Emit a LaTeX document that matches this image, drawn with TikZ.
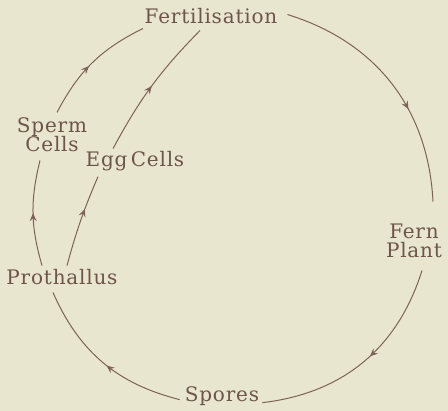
\documentclass[tikz,border=0pt]{standalone}
\usepackage{fontspec}
\setmainfont{DejaVu Serif}[LetterSpace=4]
\usetikzlibrary{decorations.markings,arrows.meta}
\definecolor{bgc}{RGB}{232,230,206}
\definecolor{inkc}{RGB}{110,84,74}
\definecolor{linec}{RGB}{126,98,88}
\tikzset{
  lbl/.style={text=inkc,font=\fontsize{20}{19.5}\selectfont,inner sep=0pt,align=center},
  cyc/.style={draw=linec,line width=1pt,postaction={decorate},
    decoration={markings,mark=at position #1 with {\arrow[linec]{Stealth[length=8pt,width=7pt,inset=3pt]}}}},
  cyc/.default=0.5
}
\begin{document}
\begin{tikzpicture}[x=1pt,y=-1pt]
\fill[bgc] (0,0) rectangle (448,411);
\useasboundingbox (0,0) rectangle (448,411);
\node[lbl,anchor=base] (fert) at (211,24) {Fertilisation};
\node[lbl,anchor=base] (fern) at (414,258) {Fern\\Plant};
\node[lbl,anchor=base] (spores) at (222,402) {Spores};
\node[lbl,anchor=base] (proth) at (62,285) {Prothallus};
\node[lbl,anchor=base] (sperm) at (52,152) {Sperm\\Cells};
\node[lbl,anchor=base] (egg) at (135,167) {Egg\,Cells};
% circle arcs
\draw[cyc=0.62] ([shift={(10,-2)}]fert.east) to[bend left=35] ([shift={(19,-22)}]fern.north);
\draw[cyc=0.46] ([shift={(8,12)}]fern.south) to[bend left=33] ([shift={(3,6)}]spores.east);
\draw[cyc=0.47] ([shift={(-5,3)}]spores.west) to[bend left=26] ([shift={(-9,7)}]proth.south);
\draw[cyc=0.5] ([shift={(-20,-4)}]proth.north) to[bend left=15] ([shift={(-12,8)}]sperm.south);
\draw[cyc=0.46] ([shift={(5,-5)}]sperm.north) to[bend left=18] ([shift={(-68,4)}]fert.south);
% egg cells branch
\draw[cyc=0.63] ([shift={(5,-4)}]proth.north) to[bend left=4] ([shift={(-37,5)}]egg.south);
\draw[cyc=0.5] ([shift={(-22,-3)}]egg.north) to[bend left=8] ([shift={(-11,6)}]fert.south);
\end{tikzpicture}
\end{document}
